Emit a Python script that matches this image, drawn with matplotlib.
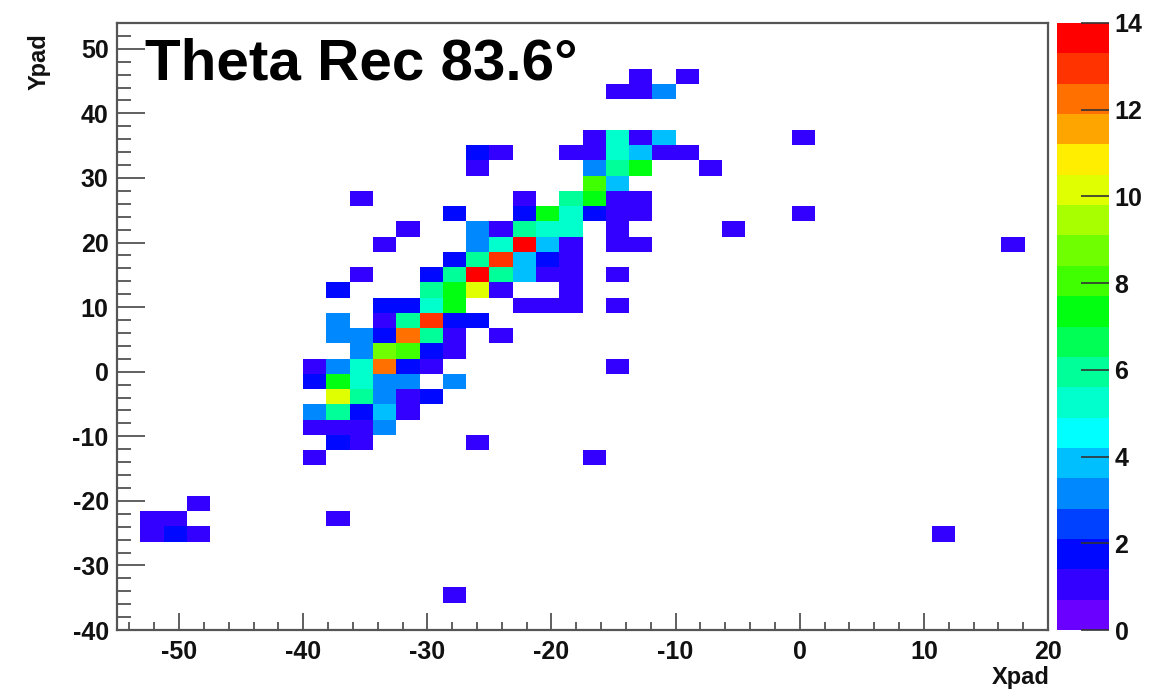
import numpy as np
import matplotlib
matplotlib.use("Agg")
import matplotlib.pyplot as plt
from matplotlib.colors import ListedColormap, BoundaryNorm
from matplotlib.ticker import MultipleLocator

# pad grid: 40 x 40 bins
X_EDGES = np.linspace(-55.0, 20.0, 41)
Y_EDGES = np.linspace(-40.5, 54.0, 41)

# hits per pad: Xpad bin index, Ypad bin index (from bottom), count
pad_x = [22, 24,
         21, 22, 23,
         20, 21, 22, 23, 29,
         15, 16, 19, 20, 21, 22, 23, 24,
         15, 20, 21, 22, 25,
         20, 21,
         10, 17, 19, 20, 21, 22,
         14, 17, 18, 19, 20, 21, 22, 29,
         12, 15, 16, 17, 18, 19, 21, 26,
         11, 15, 16, 17, 18, 19, 21, 22, 38,
         14, 15, 16, 17, 18, 19,
         10, 13, 14, 15, 16, 17, 18, 19, 21,
         9, 13, 14, 15, 16, 19,
         11, 12, 13, 14, 17, 18, 19, 21,
         9, 11, 12, 13, 14, 15,
         9, 10, 11, 12, 13, 14, 16,
         10, 11, 12, 13, 14,
         8, 9, 10, 11, 12, 13, 21,
         8, 9, 10, 11, 12, 14,
         9, 10, 11, 12, 13,
         8, 9, 10, 11, 12,
         8, 9, 10, 11,
         9, 10, 15,
         8, 20,
         3,
         1, 2, 9,
         1, 2, 3, 35,
         14]
pad_y = [36, 36,
         35, 35, 35,
         32, 32, 32, 32, 32,
         31, 31, 31, 31, 31, 31, 31, 31,
         30, 30, 30, 30, 30,
         29, 29,
         28, 28, 28, 28, 28, 28,
         27, 27, 27, 27, 27, 27, 27, 27,
         26, 26, 26, 26, 26, 26, 26, 26,
         25, 25, 25, 25, 25, 25, 25, 25, 25,
         24, 24, 24, 24, 24, 24,
         23, 23, 23, 23, 23, 23, 23, 23, 23,
         22, 22, 22, 22, 22, 22,
         21, 21, 21, 21, 21, 21, 21, 21,
         20, 20, 20, 20, 20, 20,
         19, 19, 19, 19, 19, 19, 19,
         18, 18, 18, 18, 18,
         17, 17, 17, 17, 17, 17, 17,
         16, 16, 16, 16, 16, 16,
         15, 15, 15, 15, 15,
         14, 14, 14, 14, 14,
         13, 13, 13, 13,
         12, 12, 12,
         11, 11,
         8,
         7, 7, 7,
         6, 6, 6, 6,
         2]
hits = [1, 1,
        1, 1, 3,
        1, 5, 1, 4, 1,
        2, 1, 1, 1, 5, 4, 1, 1,
        1, 3, 6, 7, 1,
        8, 4,
        1, 1, 6, 7, 1, 1,
        2, 2, 7, 5, 2, 1, 1, 1,
        1, 3, 1, 6, 5, 5, 1, 1,
        1, 3, 5, 14, 4, 1, 1, 1, 1,
        2, 6, 13, 4, 2, 1,
        1, 2, 6, 14, 6, 4, 1, 1, 1,
        2, 6, 7, 10, 1, 1,
        2, 2, 5, 7, 1, 1, 1, 1,
        3, 1, 6, 13, 2, 2,
        3, 3, 2, 12, 6, 1, 1,
        3, 9, 8, 2, 1,
        1, 3, 5, 12, 2, 1, 1,
        2, 7, 5, 3, 3, 3,
        10, 6, 3, 1, 2,
        3, 6, 2, 4, 1,
        1, 1, 1, 3,
        2, 1, 1,
        1, 1,
        1,
        1, 1, 1,
        1, 2, 1, 1,
        1]

# ROOT "pretty" palette, 20 contour levels from violet to red
PALETTE = ["#6a00ff", "#3300ff", "#0008ff", "#0040ff", "#0088ff",
           "#00bfff", "#00ffff", "#00ffcc", "#00ff99", "#00ff55",
           "#00ff10", "#40ff00", "#70ff00", "#a8ff00", "#e0ff00",
           "#ffee00", "#ffa500", "#ff7000", "#ff3300", "#ff0000"]
Z_MAX = 14

H = np.zeros((len(Y_EDGES) - 1, len(X_EDGES) - 1))
H[pad_y, pad_x] = hits
H = np.ma.masked_equal(H, 0)

plt.rcParams["font.family"] = ["Liberation Sans", "DejaVu Sans"]
plt.rcParams["font.weight"] = "bold"
plt.rcParams["axes.unicode_minus"] = False

fig = plt.figure(figsize=(11.65, 6.93), dpi=100)
W, Hpx = 1165.0, 693.0
ax = fig.add_axes([117 / W, 1 - 630 / Hpx, (1048 - 117) / W, (630 - 23) / Hpx])
cax = fig.add_axes([1057 / W, 1 - 630 / Hpx, (1109 - 1057) / W, (630 - 23) / Hpx])

cmap = ListedColormap(PALETTE)
norm = BoundaryNorm(np.arange(21) * Z_MAX / 20, ncolors=20)
mesh = ax.pcolormesh(X_EDGES, Y_EDGES, H, cmap=cmap, norm=norm)

ax.set_xlim(-55, 20)
ax.set_ylim(-40, 54)
ax.xaxis.set_major_locator(MultipleLocator(10))
ax.xaxis.set_minor_locator(MultipleLocator(2))
ax.yaxis.set_major_locator(MultipleLocator(10))
ax.yaxis.set_minor_locator(MultipleLocator(2))
ax.tick_params(axis="x", which="major", direction="in", length=12, width=1.2,
               color="#444444", labelsize=18, pad=7, labelcolor="#111111")
ax.tick_params(axis="x", which="minor", direction="in", length=5.5, width=1.2,
               color="#444444")
ax.tick_params(axis="y", which="major", direction="in", length=20, width=1.2,
               color="#444444", labelsize=18, pad=6, labelcolor="#111111")
ax.tick_params(axis="y", which="minor", direction="in", length=10, width=1.2,
               color="#444444")
for s in ax.spines.values():
    s.set_color("#555555")
    s.set_linewidth(1.6)

cb = fig.colorbar(mesh, cax=cax, ticks=range(0, Z_MAX + 1, 2))
cb.outline.set_visible(False)
cb.minorticks_off()
cax.tick_params(direction="in", length=20, width=1.2, color="#333333",
                labelsize=18, pad=4, labelcolor="#111111")

ax.text(0.030, (630 - 80) / 607, "Theta Rec 83.6\u00b0", transform=ax.transAxes,
        fontsize=42, fontweight="bold", ha="left", va="baseline", color="black")
fig.text(1050 / W, 1 - 684 / Hpx, "Xpad", fontsize=17, fontweight="bold",
         ha="right", va="baseline", color="#111111")
fig.text(39 / W, 1 - 33 / Hpx, "Ypad", fontsize=17, fontweight="bold",
         rotation=90, ha="center", va="top", color="#111111")

fig.savefig("out.png", dpi=100)
